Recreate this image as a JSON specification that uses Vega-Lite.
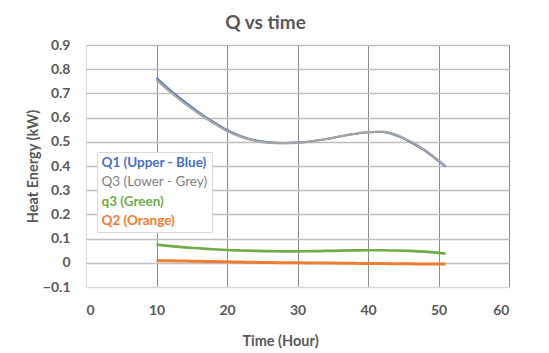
{
  "$schema": "https://vega.github.io/schema/vega-lite/v6.json",
  "width": 423,
  "height": 242,
  "autosize": {"type": "none"},
  "padding": {"left": 86, "top": 45, "right": 40, "bottom": 66},
  "background": "white",
  "config": {
    "font": "Lato",
    "view": {"stroke": null}
  },
  "title": {
    "text": "Q vs time",
    "font": "Lato",
    "fontSize": 19,
    "fontWeight": "bold",
    "color": "#595959",
    "anchor": "middle",
    "dx": -32,
    "offset": 5
  },
  "data": {
    "values": [
      {"t": 10, "Q1": 0.764, "Q3": 0.756, "q3": 0.075, "Q2": 0.009},
      {"t": 12, "Q1": 0.712, "Q3": 0.705, "q3": 0.069, "Q2": 0.008},
      {"t": 14, "Q1": 0.665, "Q3": 0.659, "q3": 0.064, "Q2": 0.007},
      {"t": 16, "Q1": 0.622, "Q3": 0.617, "q3": 0.060, "Q2": 0.006},
      {"t": 18, "Q1": 0.583, "Q3": 0.579, "q3": 0.056, "Q2": 0.005},
      {"t": 20, "Q1": 0.549, "Q3": 0.545, "q3": 0.053, "Q2": 0.004},
      {"t": 22, "Q1": 0.523, "Q3": 0.520, "q3": 0.051, "Q2": 0.003},
      {"t": 24, "Q1": 0.506, "Q3": 0.504, "q3": 0.049, "Q2": 0.002},
      {"t": 26, "Q1": 0.498, "Q3": 0.496, "q3": 0.048, "Q2": 0.001},
      {"t": 28, "Q1": 0.495, "Q3": 0.494, "q3": 0.047, "Q2": 0.0005},
      {"t": 30, "Q1": 0.497, "Q3": 0.496, "q3": 0.047, "Q2": 0.0},
      {"t": 32, "Q1": 0.502, "Q3": 0.502, "q3": 0.048, "Q2": -0.0005},
      {"t": 34, "Q1": 0.511, "Q3": 0.511, "q3": 0.049, "Q2": -0.001},
      {"t": 36, "Q1": 0.522, "Q3": 0.522, "q3": 0.050, "Q2": -0.0015},
      {"t": 38, "Q1": 0.532, "Q3": 0.533, "q3": 0.051, "Q2": -0.002},
      {"t": 40, "Q1": 0.539, "Q3": 0.540, "q3": 0.052, "Q2": -0.003},
      {"t": 42, "Q1": 0.540, "Q3": 0.542, "q3": 0.052, "Q2": -0.003},
      {"t": 44, "Q1": 0.526, "Q3": 0.529, "q3": 0.051, "Q2": -0.004},
      {"t": 46, "Q1": 0.499, "Q3": 0.502, "q3": 0.049, "Q2": -0.004},
      {"t": 48, "Q1": 0.464, "Q3": 0.467, "q3": 0.046, "Q2": -0.005},
      {"t": 50, "Q1": 0.420, "Q3": 0.423, "q3": 0.041, "Q2": -0.005},
      {"t": 51, "Q1": 0.397, "Q3": 0.400, "q3": 0.038, "Q2": -0.005}
    ]
  },
  "transform": [
    {"fold": ["Q1", "Q3", "q3", "Q2"], "as": ["key", "v"]},
    {"lookup": "key", "from": {"data": {"values": [
      {"key": "Q1", "series": "Q1 (Upper - Blue)"},
      {"key": "Q3", "series": "Q3 (Lower - Grey)"},
      {"key": "q3", "series": "q3 (Green)"},
      {"key": "Q2", "series": "Q2 (Orange)"}
    ]}, "key": "key", "fields": ["series"]}}
  ],
  "mark": {"type": "line", "interpolate": "monotone", "clip": true},
  "encoding": {
    "x": {
      "field": "t",
      "type": "quantitative",
      "scale": {"domain": [0, 60], "nice": false},
      "axis": {
        "values": [0, 10, 20, 30, 40, 50, 60],
        "title": "Time (Hour)",
        "titleFont": "Lato",
        "titleFontSize": 14.5,
        "titleFontWeight": "bold",
        "titleColor": "#595959",
        "titleX": 194,
        "titleY": 54,
        "titleBaseline": "middle",
        "titleAnchor": null,
        "labelFont": "Lato",
        "labelFontSize": 14,
        "labelFontWeight": "bold",
        "labelColor": "#595959",
        "labelPadding": 16,
        "ticks": false,
        "domain": false,
        "grid": true,
        "gridColor": {"condition": {"test": "datum.value == 0", "value": "#d9d9d9"}, "value": "#8c8c8c"},
        "gridWidth": 1
      }
    },
    "y": {
      "field": "v",
      "type": "quantitative",
      "scale": {"domain": [-0.1, 0.9], "nice": false, "zero": false},
      "axis": {
        "values": [-0.1, 0, 0.1, 0.2, 0.3, 0.4, 0.5, 0.6, 0.7, 0.8, 0.9],
        "labelExpr": "datum.value == 0 ? '0' : format(datum.value, '.1f')",
        "title": "Heat Energy (kW)",
        "titleFont": "Lato",
        "titleFontSize": 14.5,
        "titleFontWeight": "bold",
        "titleColor": "#595959",
        "titleX": -53,
        "titleY": 121,
        "titleAlign": "center",
        "titleBaseline": "middle",
        "titleAnchor": null,
        "labelFont": "Lato",
        "labelFontSize": 14,
        "labelFontWeight": "bold",
        "labelColor": "#595959",
        "labelPadding": 16,
        "ticks": false,
        "domain": false,
        "grid": true,
        "gridColor": {"condition": {"test": "datum.value == -0.1", "value": "#d9d9d9"}, "value": "#bfbfbf"},
        "gridWidth": 1.3
      }
    },
    "color": {
      "field": "series",
      "type": "nominal",
      "sort": ["Q1 (Upper - Blue)", "Q3 (Lower - Grey)", "q3 (Green)", "Q2 (Orange)"],
      "scale": {
        "domain": ["Q1 (Upper - Blue)", "Q3 (Lower - Grey)", "q3 (Green)", "Q2 (Orange)"],
        "range": ["#4472C4", "#A5A5A5", "#70AD47", "#ED7D31"]
      },
      "legend": {
        "title": null,
        "orient": "none",
        "legendX": 11,
        "legendY": 107,
        "fillColor": "white",
        "strokeColor": "#d9d9d9",
        "padding": 4,
        "symbolType": "circle",
        "symbolSize": 0,
        "symbolStrokeWidth": 0,
        "symbolOpacity": 0,
        "labelOffset": -13,
        "labelFont": "Lato",
        "labelFontSize": 13.5,
        "rowPadding": 4.5,
        "labelLimit": 300,
        "labelFontWeight": {"expr": "datum.value == 'Q3 (Lower - Grey)' ? 'normal' : 'bold'"},
        "labelColor": {"expr": "datum.value == 'Q1 (Upper - Blue)' ? '#4472C4' : datum.value == 'Q3 (Lower - Grey)' ? '#7f7f7f' : datum.value == 'q3 (Green)' ? '#70AD47' : '#ED7D31'"}
      }
    },
    "strokeWidth": {
      "field": "series",
      "type": "nominal",
      "scale": {
        "domain": ["Q1 (Upper - Blue)", "Q3 (Lower - Grey)", "q3 (Green)", "Q2 (Orange)"],
        "range": [2, 3, 2.5, 2.5]
      },
      "legend": null
    }
  }
}
